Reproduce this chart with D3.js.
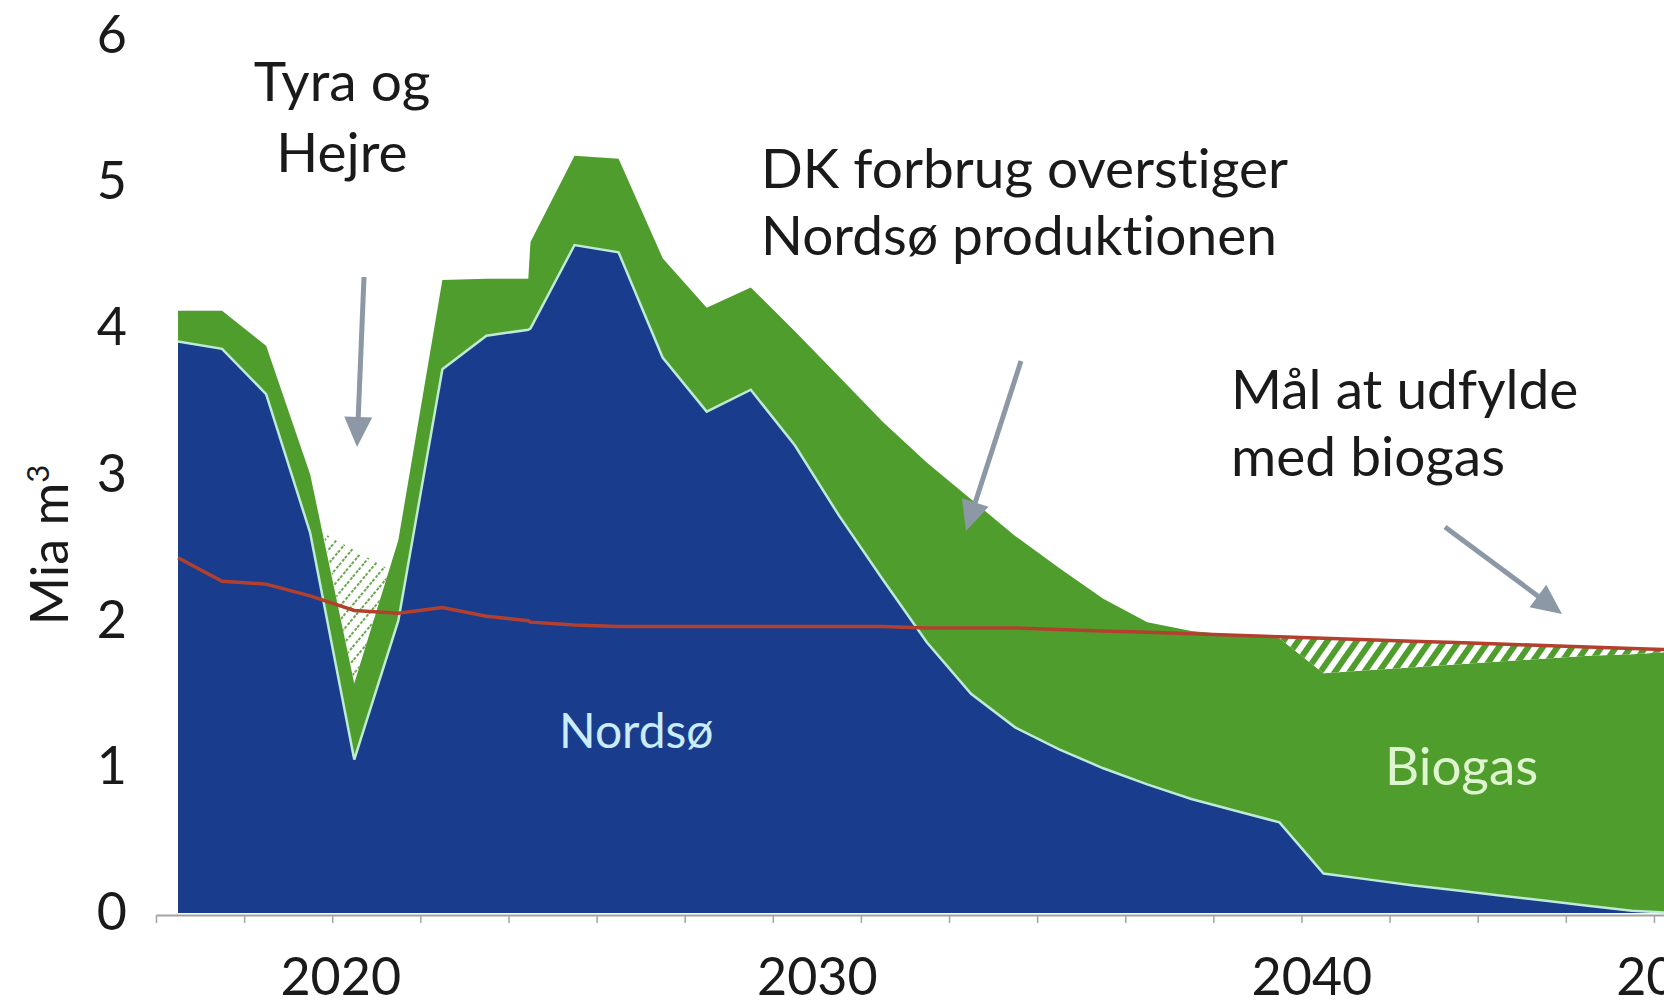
<!DOCTYPE html>
<html>
<head>
<meta charset="utf-8">
<script src="https://cdn.jsdelivr.net/npm/d3@7"></script>
<style>
  body { margin: 0; background: #fff; }
  svg { display: block; font-family: Lato, "Open Sans", sans-serif; font-variant-ligatures: none; }
</style>
</head>
<body>
<svg id="chart"></svg>
<script>
// Data (Mia m3 per year)
const years = [2016, 2017, 2018, 2019, 2020, 2021, 2022, 2023, 2023.95, 2024, 2025, 2026, 2027, 2028, 2029,
  2030, 2031, 2032, 2033, 2034, 2035, 2036, 2037, 2038, 2039, 2040, 2041, 2042, 2043, 2044, 2045,
  2046, 2047, 2048, 2049, 2050];
const nordso = [3.91, 3.86, 3.55, 2.6, 1.05, 2.0, 3.72, 3.95, 3.99, 4.0, 4.57, 4.52, 3.8, 3.43, 3.58,
  3.2, 2.72, 2.28, 1.85, 1.5, 1.27, 1.12, 0.99, 0.88, 0.78, 0.7, 0.62, 0.27, 0.23, 0.19, 0.155,
  0.12, 0.085, 0.05, 0.015, 0.0];
const biogas = [0.21, 0.26, 0.33, 0.4, 0.52, 0.55, 0.61, 0.39, 0.35, 0.59, 0.61, 0.64, 0.68, 0.71, 0.7,
  0.78, 0.95, 1.08, 1.23, 1.33, 1.31, 1.24, 1.16, 1.11, 1.15, 1.2, 1.26, 1.37, 1.43, 1.49, 1.545,
  1.6, 1.655, 1.71, 1.755, 1.79];
// DK forbrug (red line)
const consumption = [2.43, 2.27, 2.25, 2.17, 2.07, 2.05, 2.09, 2.03, 2.0, 1.99, 1.97, 1.96, 1.96, 1.96, 1.96,
  1.96, 1.96, 1.96, 1.95, 1.95, 1.95, 1.94, 1.93, 1.92, 1.91, 1.9, 1.89, 1.88, 1.87, 1.86, 1.85,
  1.84, 1.83, 1.82, 1.81, 1.8];
// hatched gap inside the Tyra dip
const dipGap = [[2019.3, 2.6], [2020, 1.57], [2020.8, 2.35]];
const gapFrom = 2041;

const yTicks = [0, 1, 2, 3, 4, 5, 6];
const yearLabels = [2020, 2030, 2040, 2050];
const minorTicks = d3.range(2015.5, 2051, 2);

// layout
const width = 1664, height = 1005;
const blue = "#193d8c", green = "#4f9d2d", red = "#b3402e", arrowGrey = "#8c98a5", ink = "#1a1a1a";
const labelNudge = { 2020: -14, 2030: 22, 2040: 76, 2050: 0 };

const svg = d3.select("#chart").attr("width", width).attr("height", height);

const x = d3.scaleLinear().domain([2015.5, 2050.5]).range([156, 1698]);
const y = d3.scaleLinear().domain([0, 6]).range([913, 36]);

const defs = svg.append("defs");
const stripes = defs.append("pattern")
  .attr("id", "stripes")
  .attr("patternUnits", "userSpaceOnUse")
  .attr("width", 12).attr("height", 12)
  .attr("patternTransform", "rotate(35)");
stripes.append("rect").attr("width", 12).attr("height", 12).attr("fill", "#fff");
stripes.append("rect").attr("width", 6).attr("height", 12).attr("fill", green);

const dashes = defs.append("pattern")
  .attr("id", "dashes")
  .attr("patternUnits", "userSpaceOnUse")
  .attr("width", 9).attr("height", 9)
  .attr("patternTransform", "rotate(40)");
dashes.append("line")
  .attr("x1", 2).attr("y1", 0).attr("x2", 2).attr("y2", 9)
  .attr("stroke", "#6aa84f").attr("stroke-width", 2).attr("stroke-dasharray", "3,2");

// Stacked areas
const rows = years.map((yr, i) => ({ year: yr, nordso: nordso[i], biogas: biogas[i], use: consumption[i] }));
const series = d3.stack().keys(["nordso", "biogas"])(rows);

const area = d3.area()
  .x((d) => x(d.data.year))
  .y0((d) => y(d[0]))
  .y1((d) => y(d[1]));

svg.append("g")
  .selectAll("path")
  .data(series)
  .join("path")
  .attr("d", area)
  .attr("fill", (d) => (d.key === "nordso" ? blue : green));

// thin light edge on top of Nordsø
svg.append("path")
  .datum(rows)
  .attr("d", d3.line().x((d) => x(d.year)).y((d) => y(d.nordso)))
  .attr("fill", "none")
  .attr("stroke", "#bfead6")
  .attr("stroke-width", 2.5);

// Hatched gaps: dip + target to fill with biogas
svg.append("path")
  .attr("d", d3.line().x((d) => x(d[0])).y((d) => y(d[1]))(dipGap) + "Z")
  .attr("fill", "url(#dashes)");

svg.append("path")
  .datum(rows.filter((d) => d.year >= gapFrom))
  .attr("d", d3.area()
    .x((d) => x(d.year))
    .y0((d) => y(d.nordso + d.biogas))
    .y1((d) => y(d.use)))
  .attr("fill", "url(#stripes)");

// Consumption line
svg.append("path")
  .datum(rows)
  .attr("d", d3.line().x((d) => x(d.year)).y((d) => y(d.use)))
  .attr("fill", "none")
  .attr("stroke", red)
  .attr("stroke-width", 3.5);

// Axes
const axisY = y(0) + 2;
const xAxis = svg.append("g")
  .attr("transform", `translate(0,${axisY})`)
  .call(d3.axisBottom(x).tickValues(minorTicks).tickSize(8).tickSizeOuter(0).tickFormat(""));
xAxis.select(".domain").attr("stroke", "#a3a3a3").attr("stroke-width", 2);
xAxis.selectAll(".tick line").attr("stroke", "#a3a3a3").attr("stroke-width", 1.5);

const yearAxis = svg.append("g")
  .attr("transform", `translate(0,${axisY})`)
  .call(d3.axisBottom(x).tickValues(yearLabels).tickSize(0).tickFormat(d3.format("d")))
  .attr("font-family", null)
  .attr("font-size", null);
yearAxis.select(".domain").remove();
yearAxis.selectAll("text")
  .attr("y", 995 - axisY)
  .attr("dy", 0)
  .attr("dx", (d) => labelNudge[d])
  .attr("fill", ink)
  .style("font-size", "52px");

const yAxis = svg.append("g")
  .attr("transform", "translate(127,0)")
  .call(d3.axisLeft(y).tickValues(yTicks).tickSize(0).tickPadding(0).tickFormat(d3.format("d")))
  .attr("font-family", null)
  .attr("font-size", null);
yAxis.select(".domain").remove();
yAxis.selectAll("text").attr("fill", ink).style("font-size", "52px");

const yTitle = svg.append("text")
  .attr("transform", "translate(68,545) rotate(-90)")
  .attr("text-anchor", "middle")
  .attr("fill", ink)
  .style("font-size", "52px");
yTitle.append("tspan").text("Mia m");
yTitle.append("tspan").attr("baseline-shift", "super").style("font-size", "31px").text("3");

// Annotations
const notes = [
  { text: "Tyra og", x: 342, y: 101, anchor: "middle" },
  { text: "Hejre", x: 342, y: 172, anchor: "middle" },
  { text: "DK forbrug overstiger", x: 761, y: 188, anchor: "start" },
  { text: "Nordsø produktionen", x: 761, y: 255, anchor: "start" },
  { text: "Mål at udfylde", x: 1231, y: 409, anchor: "start" },
  { text: "med biogas", x: 1231, y: 476, anchor: "start" },
];
svg.append("g")
  .selectAll("text")
  .data(notes)
  .join("text")
  .attr("x", (d) => d.x)
  .attr("y", (d) => d.y)
  .attr("text-anchor", (d) => d.anchor)
  .attr("fill", ink)
  .style("font-size", "55px")
  .text((d) => d.text);

const areaLabels = [
  { text: "Nordsø", x: 559, y: 748, color: "#c9ecff", size: 48 },
  { text: "Biogas", x: 1385, y: 785, color: "#def5cf", size: 53 },
];
svg.append("g")
  .selectAll("text")
  .data(areaLabels)
  .join("text")
  .attr("x", (d) => d.x)
  .attr("y", (d) => d.y)
  .attr("fill", (d) => d.color)
  .style("font-size", (d) => d.size + "px")
  .text((d) => d.text);

// Arrows
const arrows = [
  [364, 277, 357, 447],
  [1021, 361, 966, 531],
  [1445, 527, 1562, 614],
];
const arrowG = svg.append("g");
arrows.forEach(([x1, y1, x2, y2]) => {
  const len = Math.hypot(x2 - x1, y2 - y1);
  const ux = (x2 - x1) / len, uy = (y2 - y1) / len;
  const head = 30, half = 14;
  arrowG.append("line")
    .attr("x1", x1).attr("y1", y1)
    .attr("x2", x2 - ux * head * 0.8).attr("y2", y2 - uy * head * 0.8)
    .attr("stroke", arrowGrey)
    .attr("stroke-width", 5);
  const bx = x2 - ux * head, by = y2 - uy * head;
  arrowG.append("path")
    .attr("d", `M${x2},${y2}L${bx - uy * half},${by + ux * half}L${bx + uy * half},${by - ux * half}Z`)
    .attr("fill", arrowGrey);
});
</script>
</body>
</html>
